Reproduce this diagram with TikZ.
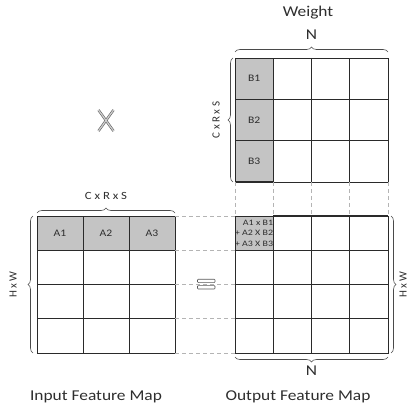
\documentclass[tikz,border=0pt]{standalone}
\usepackage{fontspec}
\setmainfont{Carlito}
\usetikzlibrary{decorations.pathreplacing}
\definecolor{ln}{HTML}{2A2A2A}
\definecolor{sh}{HTML}{C4C4C4}
\definecolor{dsh}{HTML}{B4B4B4}
\definecolor{tx}{HTML}{2E2E2E}
\newcommand{\xs}[1]{\scalebox{1.16}[1]{#1}}
\begin{document}
\begin{tikzpicture}[x=1pt,y=-1pt,
  cell/.style={draw=ln, line width=0.6pt, inner sep=0pt, outer sep=0pt, text=tx, font=\fontsize{10}{12}\selectfont},
  icell/.style={cell, minimum width=46pt, minimum height=34.25pt},
  ocell/.style={cell, minimum width=38.25pt, minimum height=34.25pt},
  wcell/.style={cell, minimum width=38.25pt, minimum height=41.33pt},
  thick line/.style={draw=ln, line width=1.2pt},
  guide/.style={draw=dsh, dash pattern=on 4pt off 3pt, line width=0.6pt},
  brc/.style={draw=ln!85, line width=0.6pt, decorate, decoration={brace, amplitude=5pt}},
  lbl/.style={text=tx, inner sep=0pt},
  big/.style={lbl, font=\fontsize{15}{18}\selectfont},
  small/.style={lbl, font=\fontsize{11}{13}\selectfont},
]
\useasboundingbox (0,0) rectangle (409,409);

% input feature map
\foreach \r/\f in {1/sh,2/white,3/white,4/white}
  \foreach \c in {1,2,3}
    \node[icell, fill=\f] (in-\r-\c) at ({37+46*(\c-0.5)}, {216+34.25*(\r-0.5)}) {\ifnum\r=1 \xs{A\c}\fi};

% weight
\foreach \r in {1,2,3}
  \foreach \c/\f in {1/sh,2/white,3/white,4/white}
    \node[wcell, fill=\f] (w-\r-\c) at ({235+38.25*(\c-0.5)}, {58+41.33*(\r-0.5)}) {\ifnum\c=1 \xs{B\r}\fi};

% output feature map
\foreach \r in {1,...,4}
  \foreach \c in {1,...,4}
    \node[ocell, fill=white] (o-\r-\c) at ({235+38.25*(\c-0.5)}, {216+34.25*(\r-0.5)}) {};
\node[ocell, fill=sh] (o-1-1) at ({235+38.25*0.5}, {216+34.25*0.5}) {};
\node[lbl, anchor=east, align=right, font=\fontsize{8.3}{10.5}\selectfont] (otxt) at (o-1-1.east)
  {\scalebox{1.2}[1]{A1 x B1}\\\scalebox{1.2}[1]{+ A2 X B2}\\\scalebox{1.2}[1]{+ A3 X B3}};

% heavier grid segments
\draw[thick line] (w-1-2.north east) -- (w-1-2.south east);
\draw[thick line] (w-3-1.south west) -- (w-3-1.south east);
\draw[thick line] (o-1-2.north west) -- (o-1-4.north east);
\draw[thick line] (o-2-2.south east) -- (o-4-2.south east);
\draw[thick line] (o-2-1.south west) -- (o-2-4.south east);
\draw[thick line] (in-2-1.south west) -- (in-2-1.south east);

% dashed guides
\foreach \c in {1,...,4}
  \draw[guide] (w-3-\c.south west) -- (o-1-\c.north west);
\draw[guide] (w-3-4.south east) -- (o-1-4.north east);
\foreach \r in {1,...,4}
  \draw[guide] (in-\r-3.north east) -- (o-\r-1.north west);
\draw[guide] (in-4-3.south east) -- (o-4-1.south west);

% braces
\draw[brc] ([yshift=3pt]in-1-1.north west) -- ([yshift=3pt]in-1-3.north east)
  node[small, midway, yshift=17pt] (lci) {\xs{C x R x S}};
\draw[brc] ([xshift=-4pt]in-4-1.south west) -- ([xshift=-4pt]in-1-1.north west)
  node[small, midway, rotate=90, yshift=20pt] (lhi) {H x W};
\draw[brc] ([yshift=6pt]w-1-1.north west) -- ([yshift=6pt]w-1-4.north east)
  node[big, midway, yshift=17pt] (ln) {\xs{N}};
\node[big] (lw) at (308,13) {\xs{Weight}};
\draw[brc] ([xshift=-2pt]w-3-1.south west) -- ([xshift=-2pt]w-1-1.north west)
  node[small, midway, rotate=90, yshift=17pt] (lcw) {C x R x S};
\draw[brc] ([xshift=3pt]o-1-4.north east) -- ([xshift=3pt]o-4-4.south east)
  node[small, midway, rotate=90, yshift=-12pt] (lho) {H x W};
\draw[brc] ([yshift=-4pt]o-4-4.south east) -- ([yshift=-4pt]o-4-1.south west)
  node[big, midway, yshift=-14pt] (lno) {\xs{N}};

% operators
\draw[double=gray!40, draw=gray!70!black, double distance=1.3pt, line width=0.55pt]
  (98.5,110) -- (113.5,131) (113.5,110) -- (98.5,131);
\draw[draw=gray!70!black, fill=white, line width=0.6pt, rounded corners=0.8pt]
  (197.5,279.2) rectangle (215,282.6) (197.5,285.6) rectangle (215,289);

% titles
\node[big] (tin) at (96,397) {\xs{Input Feature Map}};
\node[big] (tout) at (298,397) {\xs{Output Feature Map}};
\end{tikzpicture}
\end{document}
